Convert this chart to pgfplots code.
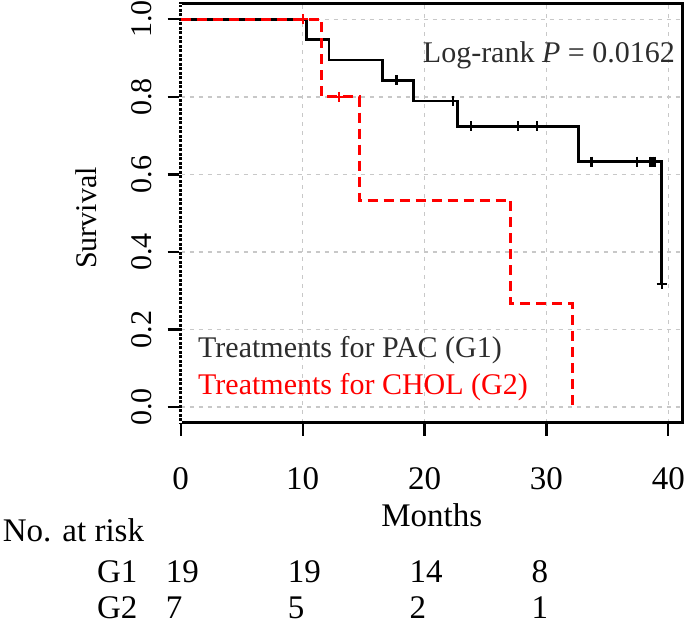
\documentclass[border=0pt]{standalone}
\usepackage{fontspec}
\setmainfont{Liberation Serif}
\usepackage{pgfplots}
\pgfplotsset{compat=1.18}
\definecolor{gridgray}{RGB}{200,200,200}
\definecolor{txtgray}{RGB}{45,45,45}
\begin{document}
\fontsize{30pt}{36pt}\selectfont
\begin{tikzpicture}
\begin{axis}[
  scale only axis, width=502pt, height=419pt,
  at={(0,0)}, anchor=south west,
  xmin=0, xmax=41.18, ymin=-0.04, ymax=1.04,
  xtick={0,10,20,30,40}, ytick={0,0.2,0.4,0.6,0.8,1},
  /pgf/number format/assume math mode=true,
  yticklabel style={/pgf/number format/fixed, /pgf/number format/fixed zerofill, /pgf/number format/precision=1, rotate=90, anchor=south, inner sep=0pt},
  xticklabel style={anchor=north, inner sep=0pt, font=\fontsize{33pt}{38pt}\selectfont},
  xticklabel shift=32pt, yticklabel shift=16pt,
  tick align=outside, tick pos=left,
  major tick length=13pt,
  tick style={black, line width=2.2pt},
  axis line style={black, line width=2.6pt},
  grid=major,
  major grid style={gridgray, line width=1.4pt, dash pattern=on 4pt off 5pt},
  clip=false,
]
\addplot[black, line width=2.6pt, const plot] coordinates {(0,1) (10.3,0.9474) (12.15,0.8947) (16.57,0.8421) (19.08,0.7895) (22.7,0.7237) (32.65,0.6332) (39.46,0.3166)};
\addplot[black, only marks, mark=+, mark size=5pt, mark options={line width=2.2pt}] coordinates {(17.7,0.8421) (22.35,0.7895) (23.8,0.7237) (27.7,0.7237) (29.2,0.7237) (33.7,0.6332) (37.4,0.6332) (38.5,0.6332) (38.7,0.6332) (38.9,0.6332) (39.46,0.3166)};
\addplot[red, line width=2.8pt, dash pattern=on 10pt off 6pt, const plot] coordinates {(0,1) (11.58,0.8) (14.66,0.5333) (27.06,0.2667) (32.15,0)};
\addplot[red, only marks, mark=+, mark size=5pt, mark options={line width=2.2pt}] coordinates {(10.0,1) (13.0,0.8)};
\draw[white, line width=3.4pt, dash pattern=on 1.5pt off 3pt] (rel axis cs:0,0) -- (rel axis cs:0,1);
\end{axis}
\node[anchor=base east, inner sep=0pt, text=txtgray] at (494.3pt,360.4pt) {Log-rank \textit{P} = 0.0162};
\node[anchor=base west, inner sep=0pt, text=txtgray] at (17.3pt,65pt) {Treatments for PAC (G1)};
\node[anchor=base west, inner sep=0pt, text=red] at (17.3pt,27.7pt) {Treatments for CHOL (G2)};
\node[anchor=base, inner sep=0pt, rotate=90] at (-84.5pt,204.7pt) {Survival};
\begin{scope}[every node/.style={inner sep=0pt, font=\fontsize{33pt}{38pt}\selectfont}]
\node[anchor=base] at (251pt,-104pt) {Months};
\node[anchor=base west] at (-178pt,-119pt) {No. at risk};
\node[anchor=base east] at (-43pt,-159.8pt) {G1};
\node[anchor=base east] at (-43pt,-195.8pt) {G2};
\node[anchor=base west] at (-15pt,-159.8pt) {19};
\node[anchor=base west] at (106.9pt,-159.8pt) {19};
\node[anchor=base west] at (228.8pt,-159.8pt) {14};
\node[anchor=base west] at (350.7pt,-159.8pt) {8};
\node[anchor=base west] at (-15pt,-195.8pt) {7};
\node[anchor=base west] at (106.9pt,-195.8pt) {5};
\node[anchor=base west] at (228.8pt,-195.8pt) {2};
\node[anchor=base west] at (350.7pt,-195.8pt) {1};
\end{scope}
\pgfresetboundingbox
\useasboundingbox (-180.7pt,-203.3pt) rectangle (504.3pt,422.7pt);
\end{tikzpicture}
\end{document}
